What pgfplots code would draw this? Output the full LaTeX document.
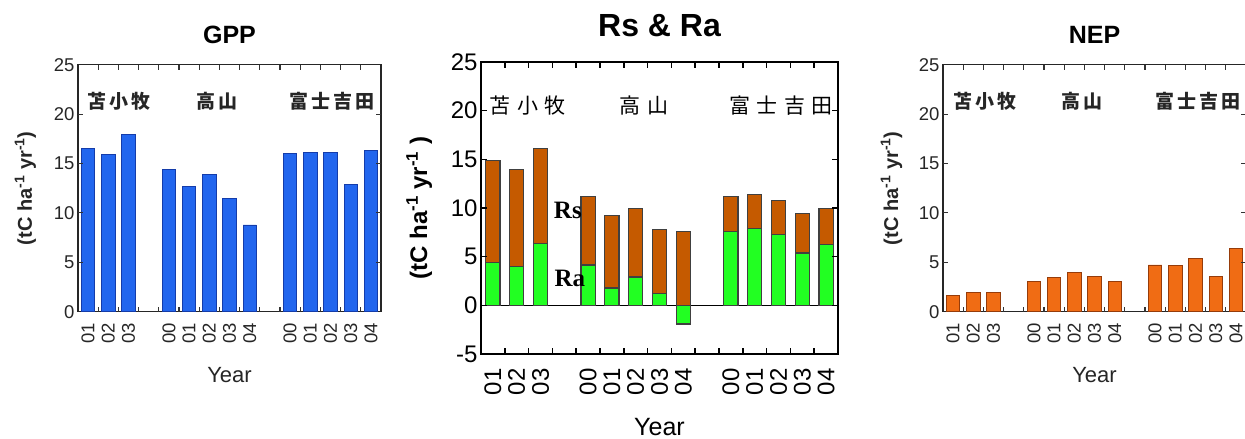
\documentclass[border=0pt]{standalone}
\usepackage{pgfplots}
\pgfplotsset{compat=1.18}
\usepackage{fontspec}
\setmainfont{Liberation Sans}
\newfontfamily\cjk{Noto Sans CJK JP}
\newfontfamily\tms{Liberation Serif}
\definecolor{gppblue}{RGB}{34,102,238}
\definecolor{gppedge}{RGB}{20,60,170}
\definecolor{rsorange}{RGB}{197,90,0}
\definecolor{ragreen}{RGB}{34,255,34}
\definecolor{nepor}{RGB}{240,108,20}
\definecolor{nepedge}{RGB}{150,60,10}
\newcommand\fs[1]{\fontsize{#1}{#1}\selectfont}
% tick marks drawn along the frame: #1 ymin, #2 ymax, #3 length, #4 style
\newcommand\frameticks[4]{%
  \pgfplotsinvokeforeach{1,2,3,4,5,6,7,8,9,10,11,12,13,14}{%
    \draw[#4] (axis cs:##1,#2) -- ++(0pt,-#3);
    \draw[#4] (axis cs:##1,#1) -- ++(0pt,#3);
  }%
}
\newcommand\sideticks[3]{%
  \pgfplotsinvokeforeach{#1}{%
    \draw[#3] (axis cs:0,##1) -- ++(#2,0pt);
    \draw[#3] (axis cs:15,##1) -- ++(-#2,0pt);
  }%
}
\pgfplotsset{
  panel/.style={
    scale only axis, anchor=south west,
    xmin=0, xmax=15,
    xtick={1,2,3,4,5,6,7,8,9,10,11,12,13,14,15},
    xticklabels={01,02,03,,00,01,02,03,04,,00,01,02,03,04},
    tick align=inside,
    /pgf/number format/assume math mode=true,
  },
  small panel/.style={
    panel,
    width=303pt, height=247pt,
    ymin=0, ymax=25, ytick={0,5,...,25},
    major tick length=5pt,
    tick style={draw=black!85, line width=1.1pt},
    axis line style={black!85, line width=1.2pt},
    tick label style={font=\fs{18.5pt}, text=black!85},
    xticklabel style={xshift=-10.1pt, yshift=-8pt, rotate=90, anchor=east},
    every axis title/.style={at={(axis description cs:0.5,1)}, anchor=base, yshift=21pt, font=\bfseries\fs{25pt}},
    every axis x label/.style={at={(axis description cs:0.5,0)}, anchor=base, yshift=-71pt, font=\fs{22pt}, text=black!85},
    every axis y label/.style={at={(axis description cs:0,0.5)}, xshift=-46pt, rotate=90, anchor=base, font=\bfseries\fs{20pt}, text=black!85},
    xlabel={Year},
    ylabel={(tC ha\textsuperscript{-1} yr\textsuperscript{-1})},
  },
}
\begin{document}
\begin{tikzpicture}
\path[use as bounding box] (0,0) rectangle (1245pt,439pt);
% ---------------- GPP ----------------
\begin{axis}[small panel, at={(78pt,127.3pt)}, title={GPP}]
\addplot[ybar, bar width=0.66, bar shift=0pt, fill=gppblue, draw=gppedge, line width=0.8pt] coordinates {
(0.5,16.49) (1.5,15.88) (2.5,17.97)
(4.5,14.39) (5.5,12.67) (6.5,13.85) (7.5,11.45) (8.5,8.78)
(10.5,15.98) (11.5,16.08) (12.5,16.08) (13.5,12.85) (14.5,16.32)};
\frameticks{0}{25}{5pt}{black!80, line width=1.1pt}
\sideticks{5,10,15,20}{5pt}{black!80, line width=1.1pt}
\node[font=\cjk\bfseries\fs{19pt}, text=black!85] at (axis cs:2.03,21.3) {苫\kern3pt 小\kern3pt 牧};
\node[font=\cjk\bfseries\fs{19pt}, text=black!85] at (axis cs:6.88,21.3) {高\kern3pt 山};
\node[font=\cjk\bfseries\fs{19pt}, text=black!85] at (axis cs:12.56,21.3) {富\kern3pt 士\kern3pt 吉\kern3pt 田};
\end{axis}
% ---------------- Rs & Ra ----------------
\begin{axis}[panel, at={(481pt,85pt)}, width=357pt, height=292pt,
  ymin=-5, ymax=25, ytick={-5,0,...,25},
  major tick length=6pt,
  tick style={draw=black, line width=1.5pt},
  axis line style={black, line width=1.8pt},
  tick label style={font=\fs{24pt}},
  xticklabel style={xshift=-11.9pt, yshift=-11pt, rotate=90, anchor=east},
  every axis title/.style={at={(axis description cs:0.5,1)}, anchor=base, yshift=25pt, font=\bfseries\fs{32pt}},
  every axis x label/.style={at={(axis description cs:0.5,0)}, anchor=base, yshift=-81pt, font=\fs{25pt}},
  every axis y label/.style={at={(axis description cs:0,0.5)}, xshift=-54pt, rotate=90, anchor=base, font=\bfseries\fs{24pt}},
  title={Rs \& Ra}, xlabel={Year},
  ylabel={(tC ha\textsuperscript{-1} yr\textsuperscript{-1} )},
]
\addplot[black, line width=1.2pt] coordinates {(0,0) (15,0)};
\addplot[ybar, bar width=0.6, bar shift=0pt, fill=rsorange, draw=black!75, line width=1.2pt] coordinates {
(0.5,14.88) (1.5,13.99) (2.5,16.1)
(4.5,11.18) (5.5,9.2) (6.5,9.92) (7.5,7.83) (8.5,7.59)
(10.5,11.2) (11.5,11.42) (12.5,10.74) (13.5,9.4) (14.5,9.92)};
\addplot[ybar, bar width=0.6, bar shift=0pt, fill=ragreen, draw=black!75, line width=1.2pt] coordinates {
(0.5,4.38) (1.5,4.0) (2.5,6.36)
(4.5,4.14) (5.5,1.78) (6.5,2.91) (7.5,1.2) (8.5,-1.92)
(10.5,7.59) (11.5,7.93) (12.5,7.25) (13.5,5.37) (14.5,6.26)};
\frameticks{-5}{25}{6pt}{black, line width=1.5pt}
\sideticks{0,5,10,15,20}{6pt}{black, line width=1.5pt}
\node[font=\tms\bfseries\fs{25pt}] at (axis cs:3.65,9.74) {Rs};
\node[font=\tms\bfseries\fs{25pt}] at (axis cs:3.73,2.77) {Ra};
\node[font=\cjk\fs{21pt}] at (axis cs:1.97,20.5) {苫\kern6.5pt 小\kern6.5pt 牧};
\node[font=\cjk\fs{21pt}] at (axis cs:6.85,20.5) {高\kern6.5pt 山};
\node[font=\cjk\fs{21pt}] at (axis cs:12.6,20.5) {富\kern6.5pt 士\kern6.5pt 吉\kern6.5pt 田};
\end{axis}
% ---------------- NEP ----------------
\begin{axis}[small panel, at={(943pt,127.3pt)}, title={NEP},
  every axis y label/.style={at={(axis description cs:0,0.5)}, xshift=-45pt, rotate=90, anchor=base, font=\bfseries\fs{20pt}, text=black!85}]
\addplot[ybar, bar width=0.66, bar shift=0pt, fill=nepor, draw=nepedge, line width=0.8pt] coordinates {
(0.5,1.66) (1.5,1.93) (2.5,1.93)
(4.5,3.1) (5.5,3.45) (6.5,3.95) (7.5,3.55) (8.5,3.1)
(10.5,4.73) (11.5,4.66) (12.5,5.4) (13.5,3.55) (14.5,6.39)};
\frameticks{0}{25}{5pt}{black!80, line width=1.1pt}
\sideticks{5,10,15,20}{5pt}{black!80, line width=1.1pt}
\node[font=\cjk\bfseries\fs{19pt}, text=black!85] at (axis cs:2.08,21.3) {苫\kern3pt 小\kern3pt 牧};
\node[font=\cjk\bfseries\fs{19pt}, text=black!85] at (axis cs:6.88,21.3) {高\kern3pt 山};
\node[font=\cjk\bfseries\fs{19pt}, text=black!85] at (axis cs:12.6,21.3) {富\kern3pt 士\kern3pt 吉\kern3pt 田};
\end{axis}
\end{tikzpicture}
\end{document}
